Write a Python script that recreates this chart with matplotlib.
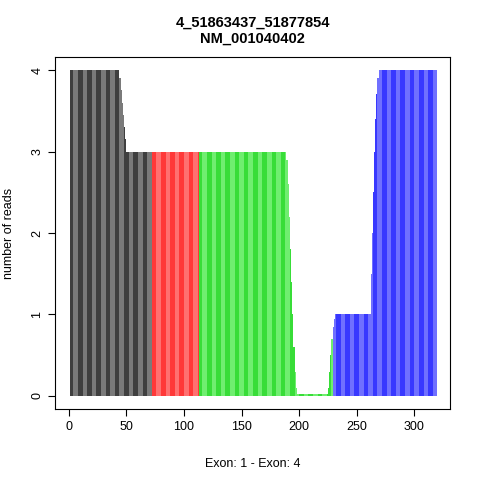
import matplotlib
matplotlib.use("Agg")
import matplotlib.pyplot as plt
import numpy as np

plt.rcParams['font.family'] = ['Liberation Sans', 'DejaVu Sans']

# coverage per position as run-length (value, length) segments per exon
exon1 = [(4, 43), (3.9, 1), (3.75, 1), (3.6, 1), (3.45, 1), (3.3, 1), (3.15, 1), (3, 22)]
exon2 = [(3, 41)]
exon3 = [(3, 76), (2.9, 1), (2.6, 1), (2.2, 1), (1.8, 1), (1.4, 1), (1.0, 1), (0.6, 1), (0.3, 1), (0.1, 1),
         (0.02, 27), (0.1, 1), (0.3, 1), (0.5, 1), (0.7, 1)]
exon4 = [(0.85, 1), (0.95, 1), (1, 31), (1.5, 1), (2, 1), (2.5, 1), (3, 1), (3.4, 1), (3.7, 1), (3.9, 1), (4, 51)]
exon_colors = [("#3f3f3f", "#7a7a7a"), ("#ff3838", "#ff7070"), ("#38dd38", "#70ee70"), ("#3838ff", "#7070ff")]

fig = plt.figure(figsize=(4.8, 4.8), dpi=100)
ax = fig.add_axes([55/480, 71/480, 395/480, 352/480])
pos = 1
for segs, (c1, c2) in zip([exon1, exon2, exon3, exon4], exon_colors):
    xs, ys = [], []
    for v, n in segs:
        for _ in range(n):
            xs.append(pos); ys.append(v); pos += 1
    xs = np.array(xs); ys = np.array(ys)
    cols = [c1 if (x // 4) % 2 == 0 else c2 for x in xs]
    ax.bar(xs, ys, width=1.0, color=cols, linewidth=0, align='edge')

ax.set_xlim(-12, 331)
ax.set_ylim(-0.16, 4.16)
ax.set_xticks([0, 50, 100, 150, 200, 250, 300])
ax.set_yticks([0, 1, 2, 3, 4])
ax.tick_params(labelsize=9, direction='out', length=5)
for lab in ax.get_yticklabels():
    lab.set_rotation(90); lab.set_va('center')
ax.set_xlabel("Exon: 1 - Exon: 4", fontsize=9, labelpad=18)
ax.set_ylabel("number of reads", fontsize=9, labelpad=12)
ax.set_title("4_51863437_51877854\nNM_001040402", fontsize=10.5, fontweight='bold', pad=10)
fig.savefig("out.png", dpi=100)
